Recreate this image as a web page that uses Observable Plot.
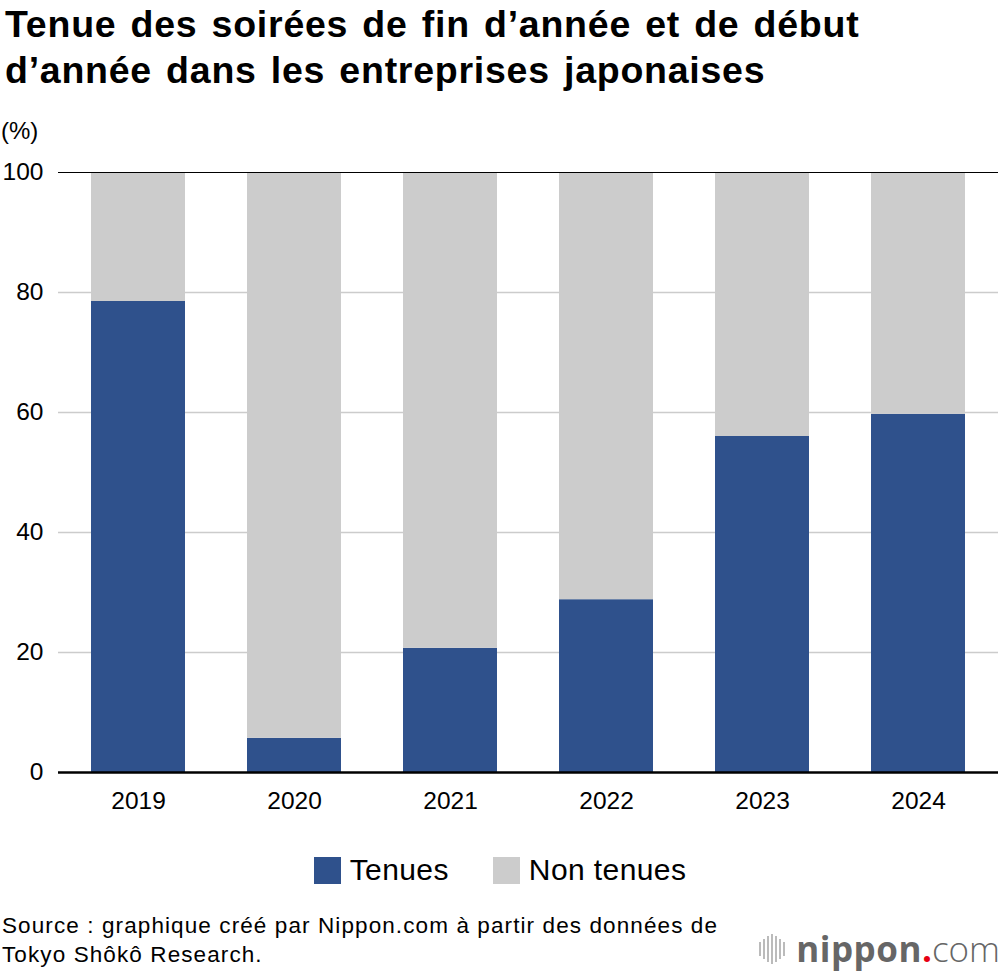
<!DOCTYPE html>
<html>
<head>
<meta charset="utf-8">
<script src="https://cdn.jsdelivr.net/npm/d3@7"></script>
<script src="https://cdn.jsdelivr.net/npm/@observablehq/plot@0.6"></script>
<style>
  html, body { margin: 0; padding: 0; background: #fff; }
  body { width: 1000px; height: 972px; position: relative; overflow: hidden; font-family: "Liberation Sans", Arial, sans-serif; color: #000; }
  #title { position: absolute; left: 5px; top: 1px; font-size: 37.5px; font-weight: bold; line-height: 46px; letter-spacing: 0.75px; word-spacing: 3px; z-index: 2; }
  #unit { position: absolute; left: 1px; top: 117px; font-size: 24px; z-index: 2; }
  #chart { position: absolute; left: 0; top: 100px; z-index: 1; }
  #legend { position: absolute; left: 0; top: 853px; width: 1000px; display: flex; justify-content: center; align-items: center; font-size: 30px; letter-spacing: 0.4px; z-index: 2; }
  .item { display: flex; align-items: center; margin: 0 22px; }
  .sw { width: 27px; height: 27px; margin-right: 9px; }
  #caption { position: absolute; left: 2px; top: 911px; font-size: 22.5px; line-height: 29px; letter-spacing: 1.1px; z-index: 2; }
  #logo { position: absolute; right: 0px; top: 925px; display: flex; align-items: center; font-family: "Open Sans", sans-serif; font-size: 35px; color: #666; z-index: 2; }
  #logo .icon { display: flex; align-items: center; margin-right: 9px; }
  #logo .icon span { display: inline-block; width: 2px; background: #bbb; margin-right: 2px; }
  #logo b { font-weight: 700; letter-spacing: 0.5px; }
  #logo .dot { color: #e60012; font-weight: 700; }
  #logo .com { font-weight: 300; }
</style>
</head>
<body>
<div id="title">Tenue des soirées de fin d’année et de début<br>d’année dans les entreprises japonaises</div>
<div id="chart"></div>
<div id="unit">(%)</div>
<div id="legend"></div>
<div id="caption">Source : graphique créé par Nippon.com à partir des données de<br>Tokyo Shôkô Research.</div>
<div id="logo"><div class="icon"><span style="height:14px"></span><span style="height:20px"></span><span style="height:26px"></span><span style="height:30px"></span><span style="height:26px"></span><span style="height:20px"></span><span style="height:14px"></span></div><b>nippon</b><span class="dot">.</span><span class="com">com</span></div>
<script>
const years = ["2019", "2020", "2021", "2022", "2023", "2024"];
const held = [78.5, 5.7, 20.7, 28.8, 56.0, 59.7];
const series = ["Tenues", "Non tenues"];
const colors = ["#2f518c", "#cccccc"];
const yTicks = [0, 20, 40, 60, 80, 100];
const gridTicks = [20, 40, 60, 80];

const data = [];
years.forEach((y, i) => {
  data.push({year: y, series: series[0], value: held[i]});
  data.push({year: y, series: series[1], value: +(100 - held[i]).toFixed(1)});
});

const chart = Plot.plot({
  width: 1000,
  height: 730,
  marginTop: 72,
  marginBottom: 58,
  marginLeft: 58,
  marginRight: 2,
  style: {fontFamily: "Liberation Sans, Arial, sans-serif", fontSize: "24.5px", color: "#000", background: "#fff"},
  x: {domain: years, paddingInner: 0.4, paddingOuter: 0.2, label: null},
  y: {domain: [0, 100], label: null},
  color: {domain: series, range: colors},
  marks: [
    Plot.ruleY(gridTicks, {stroke: "#cccccc", strokeWidth: 1.5}),
    Plot.barY(data, Plot.stackY({x: "year", y: "value", fill: "series", order: series})),
    Plot.ruleY([100], {stroke: "#000", strokeWidth: 1.2}),
    Plot.ruleY([0], {stroke: "#000", strokeWidth: 2.5}),
    Plot.axisY({ticks: yTicks, tickSize: 0, tickPadding: 15, fill: "#000", fontSize: 24.5}),
    Plot.axisX({tickSize: 0, tickPadding: 19, fill: "#000", fontSize: 24.5})
  ]
});
document.getElementById("chart").appendChild(chart);

const legend = document.getElementById("legend");
series.forEach((s, i) => {
  const item = document.createElement("div");
  item.className = "item";
  const sw = document.createElement("div");
  sw.className = "sw";
  sw.style.background = colors[i];
  const t = document.createElement("span");
  t.textContent = s;
  item.appendChild(sw);
  item.appendChild(t);
  legend.appendChild(item);
});
</script>
</body>
</html>
